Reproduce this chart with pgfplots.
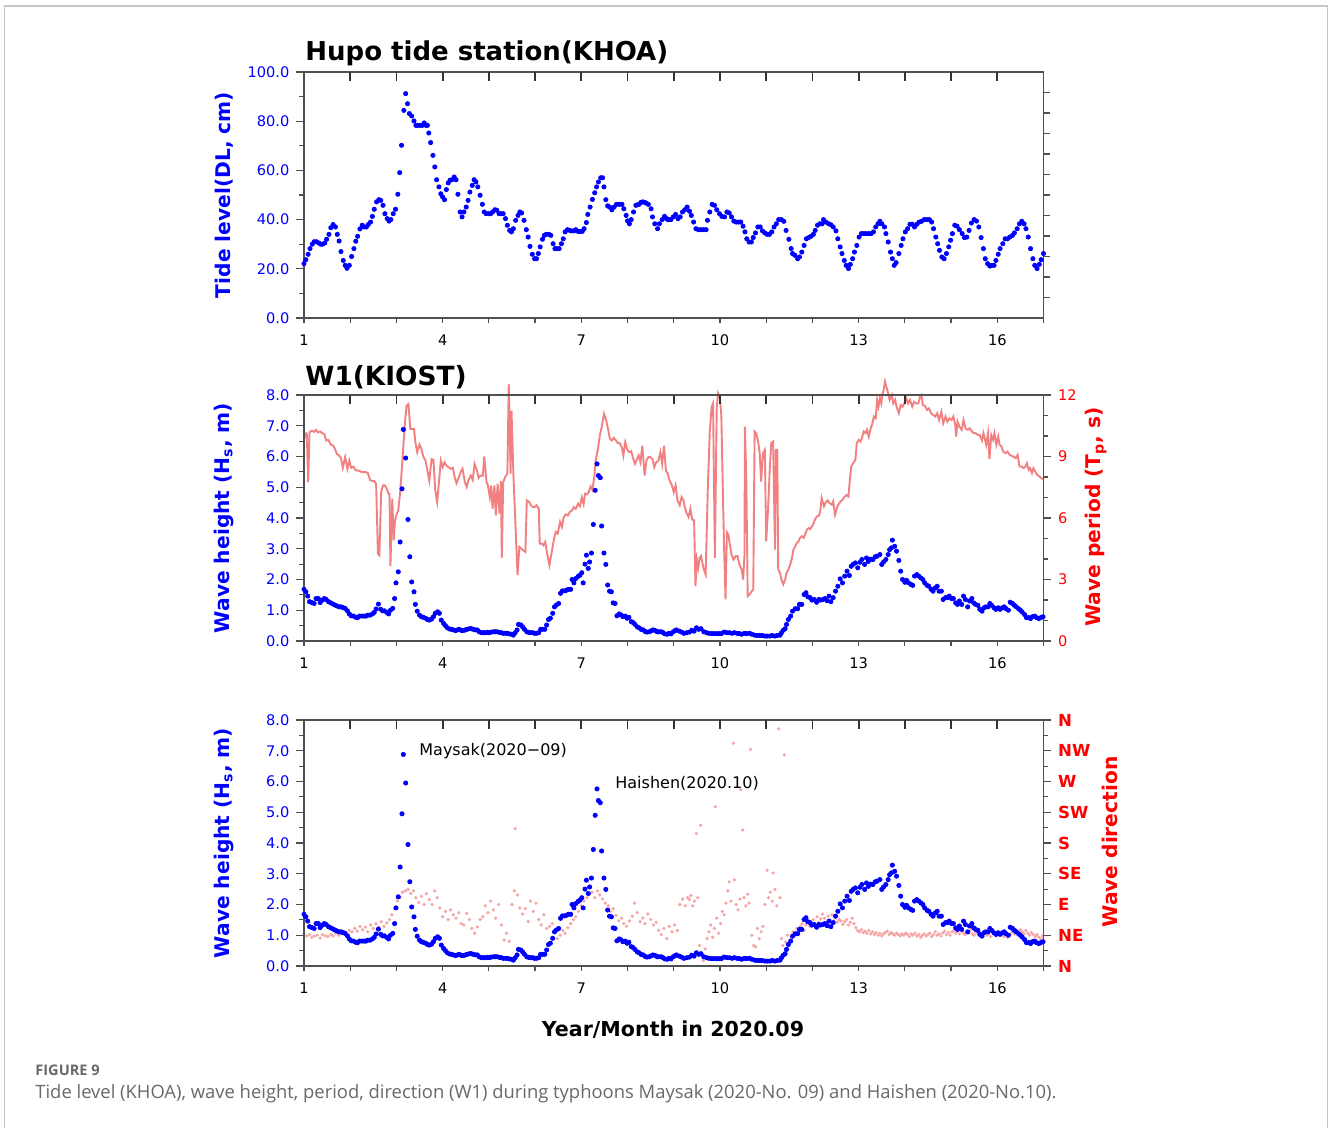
\documentclass[border=0pt]{standalone}
\usepackage{pgfplots}
\pgfplotsset{compat=1.18}
\usepackage{pgfplotstable}
\usepackage{fontspec}
\setmainfont{DejaVu Sans}
\newfontfamily\capfont{Open Sans}
\definecolor{axgray}{RGB}{80,80,80}
\definecolor{tpred}{RGB}{242,128,128}
\definecolor{dirpink}{RGB}{246,165,165}
\definecolor{myblue}{RGB}{0,0,255}
\definecolor{myred}{RGB}{255,0,0}
\definecolor{capgray}{RGB}{105,105,105}

\pgfplotstableread[row sep=\\]{
x y\\
1.00 22.1\\ 1.04 23.7\\ 1.09 25.9\\ 1.13 28.2\\ 1.18 30\\ 1.22 31\\ 1.27 31\\ 1.32 30.5\\ 1.36 30\\ 1.40 30\\
1.45 30.5\\ 1.49 32\\ 1.54 34\\ 1.58 36.7\\ 1.63 38\\ 1.68 37\\ 1.72 34\\ 1.76 31.3\\ 1.80 27\\ 1.85 23.4\\
1.89 21.4\\ 1.93 20.2\\ 1.98 21.4\\ 2.03 25\\ 2.08 28.2\\ 2.12 31.2\\ 2.16 33.2\\ 2.21 36.2\\ 2.26 37.7\\ 2.30 37\\
2.35 37\\ 2.39 38\\ 2.44 39\\ 2.48 41.3\\ 2.52 44.2\\ 2.57 47.2\\ 2.62 48.1\\ 2.66 47.8\\ 2.71 45.8\\ 2.75 42.4\\
2.80 40.4\\ 2.84 39.4\\ 2.88 40\\ 2.93 42.4\\ 2.98 44.2\\ 3.03 50.3\\ 3.07 59.1\\ 3.11 70.2\\ 3.16 84.4\\ 3.20 91.2\\
3.24 87.1\\ 3.28 83.1\\ 3.33 82.1\\ 3.38 80.1\\ 3.42 78.3\\ 3.46 78.3\\ 3.51 78.3\\ 3.56 78.3\\ 3.60 79.3\\ 3.64 78.3\\
3.67 78.3\\ 3.70 75.2\\ 3.74 71.3\\ 3.79 66.1\\ 3.83 61.4\\ 3.87 56.2\\ 3.92 53.3\\ 3.96 50.5\\ 4.00 49.2\\ 4.04 48.1\\
4.08 52.2\\ 4.12 54.9\\ 4.16 56\\ 4.20 56.2\\ 4.25 57.3\\ 4.29 56.2\\ 4.33 50.3\\ 4.38 43.1\\ 4.42 41.1\\ 4.46 43.1\\
4.51 45.1\\ 4.55 47.8\\ 4.59 51.2\\ 4.64 53.9\\ 4.68 56.2\\ 4.72 55.3\\ 4.76 53.3\\ 4.81 49.9\\ 4.86 46.2\\ 4.90 43.1\\
4.94 42.4\\ 4.99 42.4\\ 5.04 42.4\\ 5.08 43.1\\ 5.13 44\\ 5.17 43.8\\ 5.22 42.4\\ 5.26 42.4\\ 5.31 42.4\\ 5.36 40.4\\
5.40 37.7\\ 5.45 35.6\\ 5.49 35\\ 5.53 36.3\\ 5.58 39.7\\ 5.63 41.7\\ 5.67 43.1\\ 5.71 42.7\\ 5.76 39.7\\ 5.81 35.9\\
5.85 32.9\\ 5.89 29.1\\ 5.94 25.9\\ 5.99 24.1\\ 6.03 24.1\\ 6.07 26.2\\ 6.11 28.9\\ 6.16 32\\ 6.20 33.6\\ 6.24 34\\
6.30 34\\ 6.34 33.6\\ 6.39 30.2\\ 6.43 28.2\\ 6.47 28.2\\ 6.52 28.2\\ 6.57 30.2\\ 6.61 32.2\\ 6.65 35\\ 6.70 35.9\\
6.75 35.6\\ 6.79 35.4\\ 6.84 35.4\\ 6.88 35.9\\ 6.93 35.2\\ 6.97 35.2\\ 7.02 35.2\\ 7.06 36.3\\ 7.11 38.8\\ 7.14 42.1\\
7.19 45.1\\ 7.24 48.2\\ 7.29 50.9\\ 7.33 53.3\\ 7.37 55.3\\ 7.42 57\\ 7.46 57\\ 7.49 53.3\\ 7.53 48.1\\ 7.57 45.6\\
7.61 45.1\\ 7.66 44\\ 7.71 45.1\\ 7.76 46.2\\ 7.82 46.2\\ 7.88 46.2\\ 7.92 44.4\\ 7.97 41.7\\ 8.00 39.5\\ 8.04 38.3\\
8.08 40\\ 8.13 43.1\\ 8.18 45.8\\ 8.21 46\\ 8.25 46.2\\ 8.29 47\\ 8.33 47.2\\ 8.37 47\\ 8.40 46.7\\ 8.45 46.2\\
8.51 44.4\\ 8.54 41.1\\ 8.59 38.3\\ 8.65 36.3\\ 8.69 38.3\\ 8.75 40\\ 8.80 41.3\\ 8.84 40.5\\ 8.87 40\\ 8.90 40\\
8.94 40\\ 8.99 41.1\\ 9.04 42.1\\ 9.09 40.4\\ 9.14 41.1\\ 9.19 43.1\\ 9.24 44\\ 9.29 45.1\\ 9.34 43.4\\ 9.38 41.7\\
9.43 39\\ 9.48 36.3\\ 9.53 35.9\\ 9.59 35.9\\ 9.65 35.9\\ 9.70 35.9\\ 9.73 39.7\\ 9.78 43.1\\ 9.83 46.2\\ 9.88 45.8\\
9.93 44\\ 9.99 42.4\\ 10.04 41.3\\ 10.10 41.1\\ 10.15 43.1\\ 10.20 42.7\\ 10.25 41.1\\ 10.30 39.4\\ 10.35 39\\ 10.40 39\\
10.45 39\\ 10.50 37.3\\ 10.54 35\\ 10.58 32.2\\ 10.63 30.9\\ 10.68 30.9\\ 10.72 32.7\\ 10.77 34.6\\ 10.82 37\\ 10.87 37\\
10.92 35.4\\ 10.97 34.6\\ 11.02 34\\ 11.07 34\\ 11.12 35\\ 11.17 37\\ 11.22 38.3\\ 11.27 40\\ 11.33 40\\ 11.38 39.3\\
11.43 35.6\\ 11.49 32\\ 11.54 28.2\\ 11.57 26.2\\ 11.62 25.5\\ 11.68 24.1\\ 11.72 24.8\\ 11.77 26.8\\ 11.82 29.5\\ 11.87 32.2\\
11.92 32.7\\ 11.97 33.2\\ 12.02 34\\ 12.06 35.6\\ 12.11 37.7\\ 12.16 38.3\\ 12.21 38.3\\ 12.24 40\\ 12.29 39\\ 12.35 38.3\\
12.40 37.9\\ 12.45 37\\ 12.51 35.4\\ 12.55 32.2\\ 12.60 28.9\\ 12.64 26.2\\ 12.69 23.4\\ 12.73 21.4\\ 12.78 20.1\\ 12.82 21.8\\
12.87 24.1\\ 12.91 26.8\\ 12.96 29.5\\ 13.01 32.9\\ 13.06 34.3\\ 13.11 34.3\\ 13.16 34.3\\ 13.22 34.3\\ 13.27 34.3\\ 13.32 35\\
13.37 37\\ 13.42 38.3\\ 13.46 39.3\\ 13.50 38.3\\ 13.56 37\\ 13.59 34.3\\ 13.64 30.9\\ 13.69 26.8\\ 13.73 24.1\\ 13.77 21.4\\
13.81 22.5\\ 13.87 26.2\\ 13.92 29.5\\ 13.96 32.2\\ 14.01 35\\ 14.06 36.3\\ 14.11 38.1\\ 14.16 38.1\\ 14.21 37\\ 14.26 38.1\\
14.31 39\\ 14.36 39.3\\ 14.42 40\\ 14.48 40\\ 14.53 40\\ 14.58 39\\ 14.62 36.3\\ 14.67 32.9\\ 14.71 30.2\\ 14.75 27.5\\
14.80 24.8\\ 14.85 24.1\\ 14.90 26.2\\ 14.95 28.9\\ 14.99 31.6\\ 15.03 34.3\\ 15.08 37.7\\ 15.13 37.3\\ 15.18 35.9\\ 15.24 34.3\\
15.29 32.7\\ 15.34 32.9\\ 15.39 35.6\\ 15.44 38.6\\ 15.50 40\\ 15.55 39.4\\ 15.60 37\\ 15.65 32.7\\ 15.70 28.2\\ 15.74 24.1\\
15.79 22.1\\ 15.84 21.1\\ 15.88 21.4\\ 15.93 21.4\\ 15.97 23.4\\ 16.02 25.9\\ 16.06 28.2\\ 16.12 30.2\\ 16.17 32.2\\ 16.22 32.2\\
16.27 32.9\\ 16.33 33.6\\ 16.37 34.6\\ 16.43 36.3\\ 16.48 38.3\\ 16.53 39.3\\ 16.58 38.3\\ 16.62 36.3\\ 16.67 32.9\\ 16.72 28.2\\
16.77 24.1\\ 16.81 21.4\\ 16.86 20.1\\ 16.91 21.8\\ 16.95 23.7\\ 17.00 26.2\\
}\tidetable

\pgfplotstableread[row sep=\\]{
x y\\
1.00 1.68\\ 1.04 1.6\\ 1.08 1.46\\ 1.12 1.28\\ 1.17 1.25\\ 1.22 1.22\\ 1.26 1.38\\ 1.31 1.38\\ 1.35 1.25\\ 1.40 1.33\\
1.44 1.38\\ 1.48 1.35\\ 1.53 1.28\\ 1.58 1.24\\ 1.63 1.2\\ 1.67 1.17\\ 1.71 1.14\\ 1.76 1.11\\ 1.80 1.11\\ 1.84 1.09\\
1.89 1.06\\ 1.94 0.98\\ 1.98 0.88\\ 2.02 0.82\\ 2.07 0.81\\ 2.12 0.77\\ 2.16 0.76\\ 2.20 0.81\\ 2.25 0.81\\ 2.30 0.81\\
2.34 0.81\\ 2.38 0.84\\ 2.43 0.84\\ 2.48 0.88\\ 2.52 0.93\\ 2.56 1.04\\ 2.61 1.2\\ 2.66 1.03\\ 2.70 0.98\\ 2.74 0.98\\
2.79 0.93\\ 2.83 0.88\\ 2.87 1.0\\ 2.92 1.06\\ 2.96 1.38\\ 2.99 1.89\\ 3.04 2.25\\ 3.08 3.22\\ 3.12 4.95\\ 3.15 6.88\\
3.20 5.95\\ 3.25 3.95\\ 3.29 2.74\\ 3.33 1.92\\ 3.38 1.6\\ 3.41 1.19\\ 3.45 0.97\\ 3.50 0.84\\ 3.54 0.79\\ 3.58 0.77\\
3.63 0.74\\ 3.67 0.7\\ 3.71 0.68\\ 3.76 0.71\\ 3.80 0.79\\ 3.84 0.9\\ 3.89 0.95\\ 3.93 0.9\\ 3.97 0.68\\ 4.02 0.57\\
4.06 0.5\\ 4.10 0.43\\ 4.15 0.39\\ 4.19 0.38\\ 4.23 0.36\\ 4.28 0.34\\ 4.32 0.36\\ 4.36 0.38\\ 4.41 0.34\\ 4.45 0.34\\
4.49 0.36\\ 4.53 0.38\\ 4.58 0.4\\ 4.62 0.4\\ 4.66 0.38\\ 4.71 0.36\\ 4.75 0.36\\ 4.79 0.3\\ 4.84 0.27\\ 4.88 0.27\\
4.92 0.27\\ 4.97 0.28\\ 5.01 0.27\\ 5.05 0.29\\ 5.10 0.3\\ 5.14 0.3\\ 5.18 0.3\\ 5.23 0.28\\ 5.27 0.27\\ 5.31 0.25\\
5.36 0.25\\ 5.40 0.25\\ 5.44 0.23\\ 5.49 0.22\\ 5.53 0.19\\ 5.57 0.27\\ 5.61 0.36\\ 5.64 0.54\\ 5.69 0.52\\ 5.73 0.46\\
5.77 0.38\\ 5.82 0.3\\ 5.86 0.28\\ 5.90 0.27\\ 5.95 0.27\\ 5.99 0.25\\ 6.03 0.25\\ 6.08 0.27\\ 6.12 0.38\\ 6.16 0.38\\
6.21 0.38\\ 6.25 0.52\\ 6.29 0.7\\ 6.33 0.74\\ 6.38 0.9\\ 6.42 1.11\\ 6.46 1.17\\ 6.51 1.22\\ 6.55 1.55\\ 6.59 1.63\\
6.64 1.63\\ 6.68 1.65\\ 6.72 1.68\\ 6.77 1.68\\ 6.80 2.0\\ 6.84 1.89\\ 6.88 2.03\\ 6.93 2.1\\ 6.97 2.14\\ 7.01 2.22\\
7.04 1.89\\ 7.08 2.5\\ 7.11 2.79\\ 7.15 2.36\\ 7.18 2.57\\ 7.22 2.86\\ 7.26 3.79\\ 7.30 4.9\\ 7.34 5.76\\ 7.37 5.38\\
7.41 5.31\\ 7.44 3.74\\ 7.49 2.86\\ 7.53 2.49\\ 7.57 1.82\\ 7.61 1.62\\ 7.65 1.6\\ 7.69 1.24\\ 7.73 1.22\\ 7.77 0.82\\
7.82 0.88\\ 7.86 0.85\\ 7.90 0.79\\ 7.95 0.81\\ 7.99 0.74\\ 8.03 0.77\\ 8.08 0.63\\ 8.12 0.6\\ 8.16 0.54\\ 8.21 0.46\\
8.25 0.43\\ 8.29 0.38\\ 8.34 0.36\\ 8.38 0.31\\ 8.42 0.29\\ 8.47 0.3\\ 8.51 0.33\\ 8.55 0.36\\ 8.60 0.34\\ 8.64 0.3\\
8.68 0.3\\ 8.73 0.3\\ 8.77 0.27\\ 8.81 0.23\\ 8.86 0.22\\ 8.90 0.25\\ 8.94 0.23\\ 8.99 0.3\\ 9.03 0.34\\ 9.06 0.36\\
9.12 0.32\\ 9.17 0.29\\ 9.22 0.25\\ 9.28 0.27\\ 9.34 0.29\\ 9.39 0.35\\ 9.44 0.32\\ 9.49 0.43\\ 9.54 0.38\\ 9.59 0.4\\
9.65 0.3\\ 9.71 0.27\\ 9.76 0.25\\ 9.82 0.24\\ 9.87 0.24\\ 9.93 0.24\\ 9.98 0.24\\ 10.03 0.24\\ 10.09 0.29\\ 10.15 0.27\\
10.20 0.27\\ 10.26 0.25\\ 10.31 0.27\\ 10.37 0.25\\ 10.42 0.24\\ 10.47 0.22\\ 10.53 0.25\\ 10.58 0.24\\ 10.64 0.25\\ 10.69 0.22\\
10.75 0.19\\ 10.80 0.18\\ 10.86 0.18\\ 10.91 0.18\\ 10.97 0.16\\ 11.02 0.16\\ 11.08 0.16\\ 11.13 0.18\\ 11.19 0.16\\ 11.24 0.18\\
11.30 0.19\\ 11.33 0.27\\ 11.37 0.35\\ 11.41 0.4\\ 11.44 0.54\\ 11.48 0.7\\ 11.53 0.81\\ 11.57 0.97\\ 11.63 1.05\\ 11.68 1.05\\
11.72 1.19\\ 11.77 1.19\\ 11.82 1.51\\ 11.86 1.57\\ 11.90 1.44\\ 11.95 1.41\\ 11.99 1.33\\ 12.04 1.35\\ 12.09 1.26\\ 12.14 1.35\\
12.17 1.33\\ 12.23 1.35\\ 12.27 1.38\\ 12.32 1.31\\ 12.36 1.46\\ 12.40 1.28\\ 12.45 1.41\\ 12.50 1.62\\ 12.55 1.78\\ 12.60 2.02\\
12.65 1.89\\ 12.70 2.11\\ 12.75 2.27\\ 12.80 2.13\\ 12.84 2.43\\ 12.88 2.49\\ 12.93 2.54\\ 12.98 2.38\\ 13.03 2.56\\ 13.07 2.65\\
13.13 2.49\\ 13.17 2.7\\ 13.21 2.59\\ 13.26 2.66\\ 13.31 2.65\\ 13.36 2.74\\ 13.40 2.76\\ 13.46 2.81\\ 13.50 2.49\\ 13.54 2.57\\
13.59 2.65\\ 13.64 2.81\\ 13.67 2.97\\ 13.71 3.03\\ 13.73 3.28\\ 13.78 3.08\\ 13.82 2.92\\ 13.87 2.62\\ 13.91 2.27\\ 13.95 2.0\\
14.00 1.91\\ 14.04 1.97\\ 14.08 1.89\\ 14.13 1.84\\ 14.17 1.81\\ 14.21 2.11\\ 14.26 2.16\\ 14.30 2.11\\ 14.35 2.05\\ 14.39 2.0\\
14.43 1.89\\ 14.48 1.81\\ 14.52 1.78\\ 14.57 1.68\\ 14.61 1.62\\ 14.66 1.73\\ 14.70 1.78\\ 14.74 1.62\\ 14.79 1.62\\ 14.83 1.35\\
14.88 1.41\\ 14.92 1.41\\ 14.96 1.46\\ 15.01 1.38\\ 15.05 1.38\\ 15.10 1.24\\ 15.14 1.19\\ 15.18 1.3\\ 15.23 1.19\\ 15.27 1.46\\
15.31 1.35\\ 15.36 1.11\\ 15.40 1.3\\ 15.45 1.38\\ 15.49 1.24\\ 15.53 1.19\\ 15.58 1.16\\ 15.62 1.03\\ 15.67 0.97\\ 15.71 1.08\\
15.75 1.11\\ 15.80 1.11\\ 15.84 1.22\\ 15.88 1.16\\ 15.93 1.08\\ 15.97 1.03\\ 16.02 1.08\\ 16.06 1.03\\ 16.11 1.08\\ 16.15 1.11\\
16.19 1.05\\ 16.24 1.0\\ 16.28 1.26\\ 16.33 1.22\\ 16.37 1.16\\ 16.41 1.11\\ 16.46 1.05\\ 16.50 1.0\\ 16.54 0.94\\ 16.59 0.86\\
16.63 0.76\\ 16.68 0.76\\ 16.72 0.73\\ 16.76 0.79\\ 16.81 0.81\\ 16.85 0.76\\ 16.90 0.73\\ 16.94 0.76\\ 16.99 0.79\\
}\hstable

\pgfplotstableread[row sep=\\]{
x y\\
1.00 9.86\\ 1.04 10.13\\ 1.06 10.13\\ 1.09 7.75\\ 1.12 10.18\\ 1.17 10.26\\ 1.22 10.2\\ 1.26 10.3\\ 1.30 10.18\\ 1.35 10.22\\
1.40 10.13\\ 1.44 10.1\\ 1.48 9.78\\ 1.53 9.81\\ 1.58 9.58\\ 1.63 9.53\\ 1.67 9.37\\ 1.71 9.13\\ 1.76 9.05\\ 1.80 8.93\\
1.84 8.45\\ 1.89 8.97\\ 1.94 8.4\\ 1.98 8.8\\ 2.02 8.45\\ 2.07 8.51\\ 2.12 8.32\\ 2.16 8.32\\ 2.20 8.29\\ 2.25 8.24\\
2.30 8.24\\ 2.34 8.24\\ 2.38 8.19\\ 2.43 7.86\\ 2.48 7.8\\ 2.52 7.8\\ 2.56 7.67\\ 2.60 4.26\\ 2.63 4.18\\ 2.67 7.26\\
2.71 7.59\\ 2.75 7.59\\ 2.79 7.43\\ 2.83 7.18\\ 2.85 7.18\\ 2.87 3.65\\ 2.91 6.94\\ 2.94 4.91\\ 2.97 5.89\\ 3.01 6.21\\
3.04 6.37\\ 3.08 7.26\\ 3.12 8.48\\ 3.15 9.53\\ 3.19 10.83\\ 3.22 11.48\\ 3.26 11.56\\ 3.30 10.35\\ 3.33 10.35\\ 3.38 10.35\\
3.41 9.7\\ 3.45 9.21\\ 3.50 9.58\\ 3.54 9.37\\ 3.58 9.0\\ 3.63 8.8\\ 3.67 8.32\\ 3.71 7.83\\ 3.76 8.87\\ 3.80 8.84\\
3.84 7.35\\ 3.88 6.78\\ 3.92 7.75\\ 3.96 8.8\\ 4.00 8.48\\ 4.04 8.72\\ 4.08 8.56\\ 4.13 8.48\\ 4.17 8.4\\ 4.22 8.45\\
4.26 7.99\\ 4.30 7.7\\ 4.35 7.99\\ 4.39 8.24\\ 4.43 8.4\\ 4.48 7.75\\ 4.52 7.51\\ 4.56 7.86\\ 4.61 8.07\\ 4.65 7.86\\
4.69 8.64\\ 4.74 8.32\\ 4.78 7.96\\ 4.82 8.07\\ 4.87 8.07\\ 4.90 9.0\\ 4.95 7.75\\ 4.98 7.59\\ 5.02 7.02\\ 5.05 7.59\\
5.08 6.45\\ 5.12 7.59\\ 5.15 6.13\\ 5.19 7.67\\ 5.23 6.21\\ 5.26 7.8\\ 5.28 4.07\\ 5.31 7.75\\ 5.36 8.03\\ 5.40 8.16\\
5.43 12.53\\ 5.47 8.16\\ 5.49 11.24\\ 5.53 8.16\\ 5.62 3.21\\ 5.66 4.59\\ 5.70 4.51\\ 5.74 4.43\\ 5.79 4.35\\ 5.82 6.86\\
5.87 6.78\\ 5.91 6.62\\ 5.95 6.53\\ 5.99 6.53\\ 6.03 6.62\\ 6.08 6.45\\ 6.10 4.75\\ 6.15 4.75\\ 6.18 4.67\\ 6.22 4.83\\
6.26 4.26\\ 6.31 3.7\\ 6.34 4.1\\ 6.38 4.59\\ 6.41 4.99\\ 6.45 5.32\\ 6.49 5.24\\ 6.54 5.81\\ 6.58 5.56\\ 6.62 6.05\\
6.67 6.18\\ 6.71 6.13\\ 6.75 6.29\\ 6.80 6.37\\ 6.84 6.53\\ 6.88 6.45\\ 6.93 6.7\\ 6.97 6.57\\ 7.01 7.0\\ 7.05 6.68\\
7.08 7.18\\ 7.12 7.15\\ 7.16 7.26\\ 7.20 7.54\\ 7.24 7.38\\ 7.28 7.99\\ 7.31 8.8\\ 7.36 9.37\\ 7.40 10.02\\ 7.44 10.43\\
7.49 11.08\\ 7.53 10.83\\ 7.57 10.43\\ 7.62 9.86\\ 7.66 9.78\\ 7.70 9.91\\ 7.75 9.78\\ 7.79 9.65\\ 7.83 9.65\\ 7.88 9.42\\
7.91 9.05\\ 7.95 9.7\\ 7.99 9.37\\ 8.03 9.21\\ 8.08 9.26\\ 8.12 8.93\\ 8.16 8.64\\ 8.19 8.8\\ 8.24 9.05\\ 8.28 8.72\\
8.32 9.53\\ 8.37 8.07\\ 8.41 8.8\\ 8.45 8.97\\ 8.49 8.97\\ 8.54 8.88\\ 8.58 8.48\\ 8.62 8.72\\ 8.67 8.8\\ 8.71 9.21\\
8.75 8.64\\ 8.79 9.53\\ 8.83 8.32\\ 8.87 8.16\\ 8.91 7.83\\ 8.96 7.59\\ 9.00 7.26\\ 9.04 7.59\\ 9.08 6.86\\ 9.13 6.62\\
9.17 7.02\\ 9.21 6.86\\ 9.24 6.53\\ 9.27 6.29\\ 9.32 6.05\\ 9.36 6.45\\ 9.40 5.92\\ 9.44 5.89\\ 9.47 2.68\\ 9.50 3.97\\
9.53 3.57\\ 9.56 4.05\\ 9.59 4.14\\ 9.62 3.81\\ 9.65 3.49\\ 9.69 3.24\\ 9.74 7.7\\ 9.78 10.22\\ 9.82 11.43\\ 9.85 11.59\\
9.89 4.05\\ 9.93 11.43\\ 9.96 12.08\\ 10.00 11.84\\ 10.03 10.95\\ 10.06 7.54\\ 10.09 4.46\\ 10.12 2.03\\ 10.15 5.3\\ 10.18 5.19\\
10.22 4.62\\ 10.25 4.22\\ 10.29 3.97\\ 10.34 4.14\\ 10.38 4.14\\ 10.42 3.73\\ 10.47 3.49\\ 10.50 3.0\\ 10.53 4.14\\ 10.54 10.46\\
10.57 7.86\\ 10.60 2.19\\ 10.64 2.27\\ 10.69 2.43\\ 10.72 2.51\\ 10.75 10.22\\ 10.78 10.14\\ 10.82 9.81\\ 10.86 9.16\\ 10.89 7.78\\
10.93 9.16\\ 10.97 9.32\\ 11.00 4.86\\ 11.04 6.41\\ 11.08 8.51\\ 11.11 9.65\\ 11.15 9.73\\ 11.19 4.46\\ 11.21 9.32\\ 11.24 9.32\\
11.26 3.49\\ 11.30 3.32\\ 11.33 3.0\\ 11.37 2.76\\ 11.41 3.0\\ 11.44 3.32\\ 11.48 3.49\\ 11.52 3.73\\ 11.55 3.97\\ 11.59 4.46\\
11.63 4.62\\ 11.66 4.78\\ 11.70 4.86\\ 11.73 5.03\\ 11.77 5.11\\ 11.81 5.03\\ 11.84 5.19\\ 11.88 5.43\\ 11.92 5.51\\ 11.95 5.46\\
11.99 5.59\\ 12.03 5.76\\ 12.06 5.95\\ 12.10 6.08\\ 12.14 6.11\\ 12.17 6.32\\ 12.20 6.97\\ 12.25 6.57\\ 12.28 6.73\\ 12.33 6.86\\
12.37 6.73\\ 12.42 6.65\\ 12.45 6.81\\ 12.49 6.16\\ 12.53 6.49\\ 12.56 6.65\\ 12.61 6.81\\ 12.65 6.89\\ 12.69 7.02\\ 12.74 7.13\\
12.78 7.05\\ 12.81 7.86\\ 12.84 8.51\\ 12.88 8.67\\ 12.93 8.84\\ 12.96 9.65\\ 13.00 9.81\\ 13.04 9.73\\ 13.07 9.89\\ 13.11 10.22\\
13.15 10.14\\ 13.18 10.3\\ 13.22 9.97\\ 13.26 10.38\\ 13.29 10.54\\ 13.33 10.95\\ 13.37 10.86\\ 13.40 11.76\\ 13.43 11.43\\ 13.46 11.84\\
13.49 11.59\\ 13.51 12.0\\ 13.54 12.24\\ 13.57 12.65\\ 13.60 12.4\\ 13.64 12.08\\ 13.67 11.76\\ 13.72 12.0\\ 13.75 11.59\\ 13.79 11.76\\
13.82 11.43\\ 13.87 11.11\\ 13.91 11.51\\ 13.95 11.43\\ 13.99 11.59\\ 14.03 11.84\\ 14.07 11.59\\ 14.11 11.76\\ 14.16 11.43\\ 14.20 11.67\\
14.25 11.59\\ 14.29 11.59\\ 14.33 11.92\\ 14.36 12.0\\ 14.39 11.51\\ 14.44 11.46\\ 14.48 11.27\\ 14.52 11.35\\ 14.57 11.11\\ 14.61 11.03\\
14.66 10.95\\ 14.70 11.11\\ 14.74 10.78\\ 14.79 11.19\\ 14.83 10.62\\ 14.88 10.95\\ 14.92 10.7\\ 14.96 10.86\\ 15.01 10.78\\ 15.05 10.95\\
15.09 10.54\\ 15.11 9.97\\ 15.14 10.7\\ 15.18 10.46\\ 15.23 10.3\\ 15.27 10.78\\ 15.31 10.38\\ 15.36 10.3\\ 15.40 10.38\\ 15.45 10.22\\
15.49 10.14\\ 15.53 10.14\\ 15.58 10.05\\ 15.62 10.05\\ 15.67 9.78\\ 15.70 10.14\\ 15.72 9.97\\ 15.76 9.57\\ 15.80 10.14\\ 15.83 8.87\\
15.87 10.05\\ 15.91 9.81\\ 15.94 10.14\\ 15.98 9.57\\ 16.02 9.97\\ 16.05 9.57\\ 16.09 9.49\\ 16.13 9.24\\ 16.18 9.16\\ 16.22 9.24\\
16.27 9.08\\ 16.31 9.03\\ 16.35 9.0\\ 16.40 8.92\\ 16.44 9.08\\ 16.48 8.51\\ 16.53 8.51\\ 16.57 8.43\\ 16.61 8.51\\ 16.64 8.67\\
16.68 8.35\\ 16.71 8.43\\ 16.75 8.19\\ 16.78 8.43\\ 16.82 8.27\\ 16.86 8.11\\ 16.91 8.03\\ 16.95 7.95\\ 16.99 7.9\\
}\tptable

\pgfplotstableread[row sep=\\]{
x y\\
1.00 47\\ 1.06 44\\ 1.12 46\\ 1.17 42\\ 1.23 44\\ 1.29 45\\ 1.35 41\\ 1.40 46\\ 1.46 44\\ 1.52 43\\
1.58 46\\ 1.63 44\\ 1.69 48\\ 1.75 45\\ 1.81 47\\ 1.87 50\\ 1.92 48\\ 1.98 52\\ 2.04 50\\ 2.10 55\\
2.15 51\\ 2.21 58\\ 2.27 53\\ 2.33 57\\ 2.38 50\\ 2.44 60\\ 2.50 55\\ 2.56 62\\ 2.62 57\\ 2.67 65\\
2.73 58\\ 2.79 63\\ 2.85 68\\ 2.90 75\\ 2.96 84\\ 3.02 95\\ 3.08 100\\ 3.13 108\\ 3.19 110\\ 3.25 112\\
3.31 106\\ 3.37 110\\ 3.42 100\\ 3.48 93\\ 3.54 102\\ 3.60 90\\ 3.65 106\\ 3.71 97\\ 3.77 90\\ 3.83 110\\
3.88 100\\ 3.94 85\\ 4.00 72\\ 4.06 80\\ 4.12 68\\ 4.17 82\\ 4.23 75\\ 4.29 70\\ 4.35 78\\ 4.40 62\\
4.46 60\\ 4.52 77\\ 4.58 68\\ 4.63 55\\ 4.69 48\\ 4.75 57\\ 4.81 68\\ 4.87 72\\ 4.92 88\\ 4.98 78\\
5.04 95\\ 5.10 82\\ 5.15 70\\ 5.21 90\\ 5.27 60\\ 5.33 38\\ 5.38 48\\ 5.44 36\\ 5.50 90\\ 5.55 110\\
5.57 201\\ 5.62 104\\ 5.67 85\\ 5.73 76\\ 5.79 84\\ 5.85 65\\ 5.90 95\\ 5.96 80\\ 6.02 92\\ 6.08 68\\
6.13 60\\ 6.19 75\\ 6.25 55\\ 6.31 58\\ 6.37 62\\ 6.42 52\\ 6.48 40\\ 6.54 45\\ 6.60 52\\ 6.65 48\\
6.71 56\\ 6.77 62\\ 6.83 68\\ 6.88 72\\ 6.94 80\\ 7.00 88\\ 7.06 95\\ 7.12 100\\ 7.17 104\\ 7.23 108\\
7.29 100\\ 7.35 110\\ 7.40 104\\ 7.46 98\\ 7.52 92\\ 7.58 88\\ 7.63 80\\ 7.69 84\\ 7.75 74\\ 7.81 66\\
7.87 70\\ 7.92 62\\ 7.98 58\\ 8.04 66\\ 8.10 73\\ 8.15 92\\ 8.21 78\\ 8.27 65\\ 8.33 70\\ 8.38 62\\
8.44 76\\ 8.50 68\\ 8.56 60\\ 8.62 64\\ 8.67 52\\ 8.73 46\\ 8.79 55\\ 8.85 40\\ 8.90 58\\ 8.96 50\\
9.02 60\\ 9.08 52\\ 9.13 90\\ 9.19 98\\ 9.25 88\\ 9.30 100\\ 9.34 97\\ 9.37 103\\ 9.41 88\\ 9.45 95\\
9.49 194\\ 9.52 100\\ 9.56 30\\ 9.58 206\\ 9.61 15\\ 9.64 8\\ 9.68 25\\ 9.72 40\\ 9.76 50\\ 9.80 60\\
9.84 42\\ 9.88 55\\ 9.90 233\\ 9.93 70\\ 9.97 48\\ 10.01 62\\ 10.05 80\\ 10.09 75\\ 10.13 92\\ 10.17 110\\
10.20 123\\ 10.24 95\\ 10.29 326\\ 10.31 126\\ 10.35 90\\ 10.39 82\\ 10.43 98\\ 10.45 258\\ 10.49 199\\ 10.52 100\\
10.56 88\\ 10.60 105\\ 10.63 92\\ 10.66 317\\ 10.69 45\\ 10.73 30\\ 10.77 28\\ 10.81 55\\ 10.85 40\\ 10.89 50\\
10.93 58\\ 10.97 90\\ 11.02 140\\ 11.05 100\\ 11.09 108\\ 11.13 95\\ 11.15 136\\ 11.19 112\\ 11.23 88\\ 11.27 347\\
11.30 100\\ 11.33 40\\ 11.36 30\\ 11.39 309\\ 11.42 35\\ 11.46 45\\ 11.50 32\\ 11.54 42\\ 11.58 50\\ 11.62 44\\
11.66 55\\ 11.70 48\\ 11.74 58\\ 11.78 62\\ 11.82 52\\ 11.86 60\\ 11.90 66\\ 11.94 58\\ 11.98 63\\ 12.02 68\\
12.06 60\\ 12.10 72\\ 12.14 64\\ 12.18 69\\ 12.22 76\\ 12.26 70\\ 12.30 64\\ 12.34 73\\ 12.38 67\\ 12.42 75\\
12.46 66\\ 12.50 71\\ 12.54 64\\ 12.58 68\\ 12.62 66\\ 12.66 61\\ 12.70 65\\ 12.74 68\\ 12.78 60\\ 12.82 64\\
12.86 70\\ 12.90 62\\ 12.94 56\\ 12.98 52\\ 13.02 50\\ 13.06 53\\ 13.10 49\\ 13.14 51\\ 13.18 48\\ 13.22 52\\
13.26 47\\ 13.30 50\\ 13.34 46\\ 13.38 49\\ 13.42 45\\ 13.46 48\\ 13.50 44\\ 13.54 47\\ 13.58 49\\ 13.62 51\\
13.66 46\\ 13.70 49\\ 13.74 47\\ 13.78 45\\ 13.82 48\\ 13.86 46\\ 13.90 44\\ 13.94 47\\ 13.98 45\\ 14.02 48\\
14.06 46\\ 14.10 43\\ 14.14 47\\ 14.18 45\\ 14.22 48\\ 14.26 44\\ 14.30 46\\ 14.34 42\\ 14.38 45\\ 14.42 47\\
14.46 44\\ 14.50 46\\ 14.54 48\\ 14.58 43\\ 14.62 46\\ 14.66 50\\ 14.70 45\\ 14.74 47\\ 14.78 44\\ 14.82 48\\
14.86 51\\ 14.90 46\\ 14.94 49\\ 14.98 45\\ 15.02 50\\ 15.06 52\\ 15.10 48\\ 15.14 51\\ 15.18 47\\ 15.22 53\\
15.26 49\\ 15.30 46\\ 15.34 50\\ 15.38 48\\ 15.42 52\\ 15.46 47\\ 15.50 45\\ 15.54 49\\ 15.58 51\\ 15.62 46\\
15.66 44\\ 15.70 48\\ 15.74 50\\ 15.78 45\\ 15.82 47\\ 15.86 43\\ 15.90 49\\ 15.94 46\\ 15.98 44\\ 16.02 48\\
16.06 45\\ 16.10 47\\ 16.14 43\\ 16.18 46\\ 16.22 42\\ 16.26 45\\ 16.30 48\\ 16.34 51\\ 16.38 47\\ 16.42 52\\
16.46 49\\ 16.50 53\\ 16.54 50\\ 16.58 47\\ 16.62 52\\ 16.66 48\\ 16.70 45\\ 16.74 49\\ 16.78 46\\ 16.82 43\\
16.86 46\\ 16.90 42\\ 16.94 40\\ 16.98 44\\
}\dirtable

\pgfplotsset{
  panel/.style={
    width=369.75pt, height=123pt, scale only axis,
    xmin=1, xmax=17, clip=false,
    axis line style={axgray, line width=0.7pt},
    every tick/.style={axgray, line width=0.6pt},
    tick align=outside,
    major tick length=3.8pt, minor tick length=2.3pt,
    /pgf/number format/assume math mode=true,
    ticklabel style={font=\fontsize{7.3}{8.5}\selectfont},
  },
  mainax/.style={panel,
    xtick={1,4,7,10,13,16}, minor xtick={1,2,...,17},
    major x tick style={draw=none},
    xtick pos=bottom, ytick pos=left,
    yticklabel style={myblue, /pgf/number format/.cd, fixed, fixed zerofill, precision=1},
    xticklabel style={black, yshift=-1pt},
  },
  rightax/.style={panel, axis x line=none, axis y line*=right, ytick pos=right,
    yticklabel style={myred}},
  blued/.style={only marks, mark=*, mark size=1.05pt, color=myblue, mark options={draw=none, fill=myblue}},
}

\begin{document}
\begin{tikzpicture}
\path[use as bounding box] (0,0) rectangle (664pt,-564pt);
\fill[white] (0,0) rectangle (664pt,-564pt);
\draw[gray!45, line width=0.7pt] (2.3pt,-3pt) rectangle (663.6pt,-580pt);

% ---------- Panel 1 ----------
\begin{axis}[mainax, at={(152pt,-36pt)}, anchor=north west,
  ymin=0, ymax=100, ytick={0,20,...,100}, minor ytick={10,30,50,70,90}]
  \addplot[blued] table {\tidetable};
  \pgfplotsinvokeforeach{1,...,11}{\draw[axgray, line width=0.6pt] (axis cs:17,{#1*100/12}) -- ++(3.3pt,0pt);}
\end{axis}

% ---------- Panel 2 ----------
\begin{axis}[rightax, at={(152pt,-197.5pt)}, anchor=north west,
  ymin=0, ymax=12, ytick={0,3,...,12}, minor ytick={1,2,4,5,7,8,10,11}]
  \addplot[tpred, line width=0.95pt, no marks] table {\tptable};
\end{axis}
\begin{axis}[mainax, at={(152pt,-197.5pt)}, anchor=north west,
  ymin=0, ymax=8, ytick={0,1,...,8}, minor ytick={0.5,1.5,...,7.5}]
  \addplot[blued] table {\hstable};
\end{axis}

% ---------- Panel 3 ----------
\begin{axis}[rightax, at={(152pt,-360pt)}, anchor=north west,
  ymin=0, ymax=360, ytick={0,45,...,360}, minor ytick={22.5,67.5,...,337.5},
  yticklabels={N,NE,E,SE,S,SW,W,NW,N},
  yticklabel style={myred, font=\fontsize{8.3}{10}\selectfont\bfseries}]
  \addplot[only marks, mark=*, mark size=0.6pt, color=dirpink, mark options={draw=none, fill=dirpink}] table {\dirtable};
\end{axis}
\begin{axis}[mainax, at={(152pt,-360pt)}, anchor=north west,
  ymin=0, ymax=8, ytick={0,1,...,8}, minor ytick={0.5,1.5,...,7.5}]
  \addplot[blued] table {\hstable};
\end{axis}

% ---------- inward top tick marks (axis decoration) ----------
\draw[black!80, line width=0.9pt]
  (175.11pt,-36pt) -- (175.11pt,-40.5pt) (198.22pt,-36pt) -- (198.22pt,-40.5pt)
  (221.33pt,-36pt) -- (221.33pt,-40.5pt) (244.44pt,-36pt) -- (244.44pt,-40.5pt)
  (267.55pt,-36pt) -- (267.55pt,-40.5pt) (290.66pt,-36pt) -- (290.66pt,-40.5pt)
  (313.77pt,-36pt) -- (313.77pt,-40.5pt) (336.88pt,-36pt) -- (336.88pt,-40.5pt)
  (359.98pt,-36pt) -- (359.98pt,-40.5pt) (383.09pt,-36pt) -- (383.09pt,-40.5pt)
  (406.20pt,-36pt) -- (406.20pt,-40.5pt) (429.31pt,-36pt) -- (429.31pt,-40.5pt)
  (452.42pt,-36pt) -- (452.42pt,-40.5pt) (475.53pt,-36pt) -- (475.53pt,-40.5pt)
  (498.64pt,-36pt) -- (498.64pt,-40.5pt);
\draw[black!80, line width=0.9pt]
  (175.11pt,-197.5pt) -- (175.11pt,-202pt) (198.22pt,-197.5pt) -- (198.22pt,-202pt)
  (221.33pt,-197.5pt) -- (221.33pt,-202pt) (244.44pt,-197.5pt) -- (244.44pt,-202pt)
  (267.55pt,-197.5pt) -- (267.55pt,-202pt) (290.66pt,-197.5pt) -- (290.66pt,-202pt)
  (313.77pt,-197.5pt) -- (313.77pt,-202pt) (336.88pt,-197.5pt) -- (336.88pt,-202pt)
  (359.98pt,-197.5pt) -- (359.98pt,-202pt) (383.09pt,-197.5pt) -- (383.09pt,-202pt)
  (406.20pt,-197.5pt) -- (406.20pt,-202pt) (429.31pt,-197.5pt) -- (429.31pt,-202pt)
  (452.42pt,-197.5pt) -- (452.42pt,-202pt) (475.53pt,-197.5pt) -- (475.53pt,-202pt)
  (498.64pt,-197.5pt) -- (498.64pt,-202pt);
\draw[black!80, line width=0.9pt]
  (175.11pt,-360pt) -- (175.11pt,-364.5pt) (198.22pt,-360pt) -- (198.22pt,-364.5pt)
  (221.33pt,-360pt) -- (221.33pt,-364.5pt) (244.44pt,-360pt) -- (244.44pt,-364.5pt)
  (267.55pt,-360pt) -- (267.55pt,-364.5pt) (290.66pt,-360pt) -- (290.66pt,-364.5pt)
  (313.77pt,-360pt) -- (313.77pt,-364.5pt) (336.88pt,-360pt) -- (336.88pt,-364.5pt)
  (359.98pt,-360pt) -- (359.98pt,-364.5pt) (383.09pt,-360pt) -- (383.09pt,-364.5pt)
  (406.20pt,-360pt) -- (406.20pt,-364.5pt) (429.31pt,-360pt) -- (429.31pt,-364.5pt)
  (452.42pt,-360pt) -- (452.42pt,-364.5pt) (475.53pt,-360pt) -- (475.53pt,-364.5pt)
  (498.64pt,-360pt) -- (498.64pt,-364.5pt);

% ---------- Texts ----------
\node[anchor=west, inner sep=0, font=\fontsize{13}{15}\selectfont\bfseries] at (152.5pt,-26.5pt) {Hupo tide station(KHOA)};
\node[anchor=west, inner sep=0, font=\fontsize{13.2}{15}\selectfont\bfseries] at (152.5pt,-188.5pt) {W1(KIOST)};

\node[rotate=90, inner sep=0, text=myblue, font=\fontsize{10.1}{12}\selectfont\bfseries] at (112pt,-97.5pt) {Tide level(DL, cm)};
\node[rotate=90, inner sep=0, text=myblue, font=\fontsize{10.1}{12}\selectfont\bfseries] at (112pt,-259pt) {Wave height (H\textsubscript{s}, m)};
\node[rotate=90, inner sep=0, text=myred, font=\fontsize{10.1}{12}\selectfont\bfseries] at (548pt,-258.5pt) {Wave period (T\textsubscript{p}, s)};
\node[rotate=90, inner sep=0, text=myblue, font=\fontsize{10.1}{12}\selectfont\bfseries] at (112pt,-421.5pt) {Wave height (H\textsubscript{s}, m)};
\node[rotate=90, inner sep=0, text=myred, font=\fontsize{10.1}{12}\selectfont\bfseries] at (555pt,-421pt) {Wave direction};

\node[anchor=west, inner sep=0, font=\fontsize{8.0}{10}\selectfont] at (209.5pt,-375.5pt) {Maysak(2020−09)};
\node[anchor=west, inner sep=0, font=\fontsize{8.0}{10}\selectfont] at (307.5pt,-391.5pt) {Haishen(2020.10)};

\node[inner sep=0, font=\fontsize{10.3}{12}\selectfont\bfseries] at (336.5pt,-515pt) {Year/Month in 2020.09};

\node[anchor=west, inner sep=0, text=capgray, font=\capfont\fontsize{7.3}{9}\selectfont\bfseries] at (17.5pt,-535pt) {FIGURE 9};
\node[anchor=west, inner sep=0, text=capgray, font=\capfont\fontsize{9.2}{11}\selectfont] at (17.5pt,-546.8pt) {Tide level (KHOA), wave height, period, direction (W1) during typhoons Maysak (2020-No. 09) and Haishen (2020-No.10).};
\end{tikzpicture}
\end{document}
